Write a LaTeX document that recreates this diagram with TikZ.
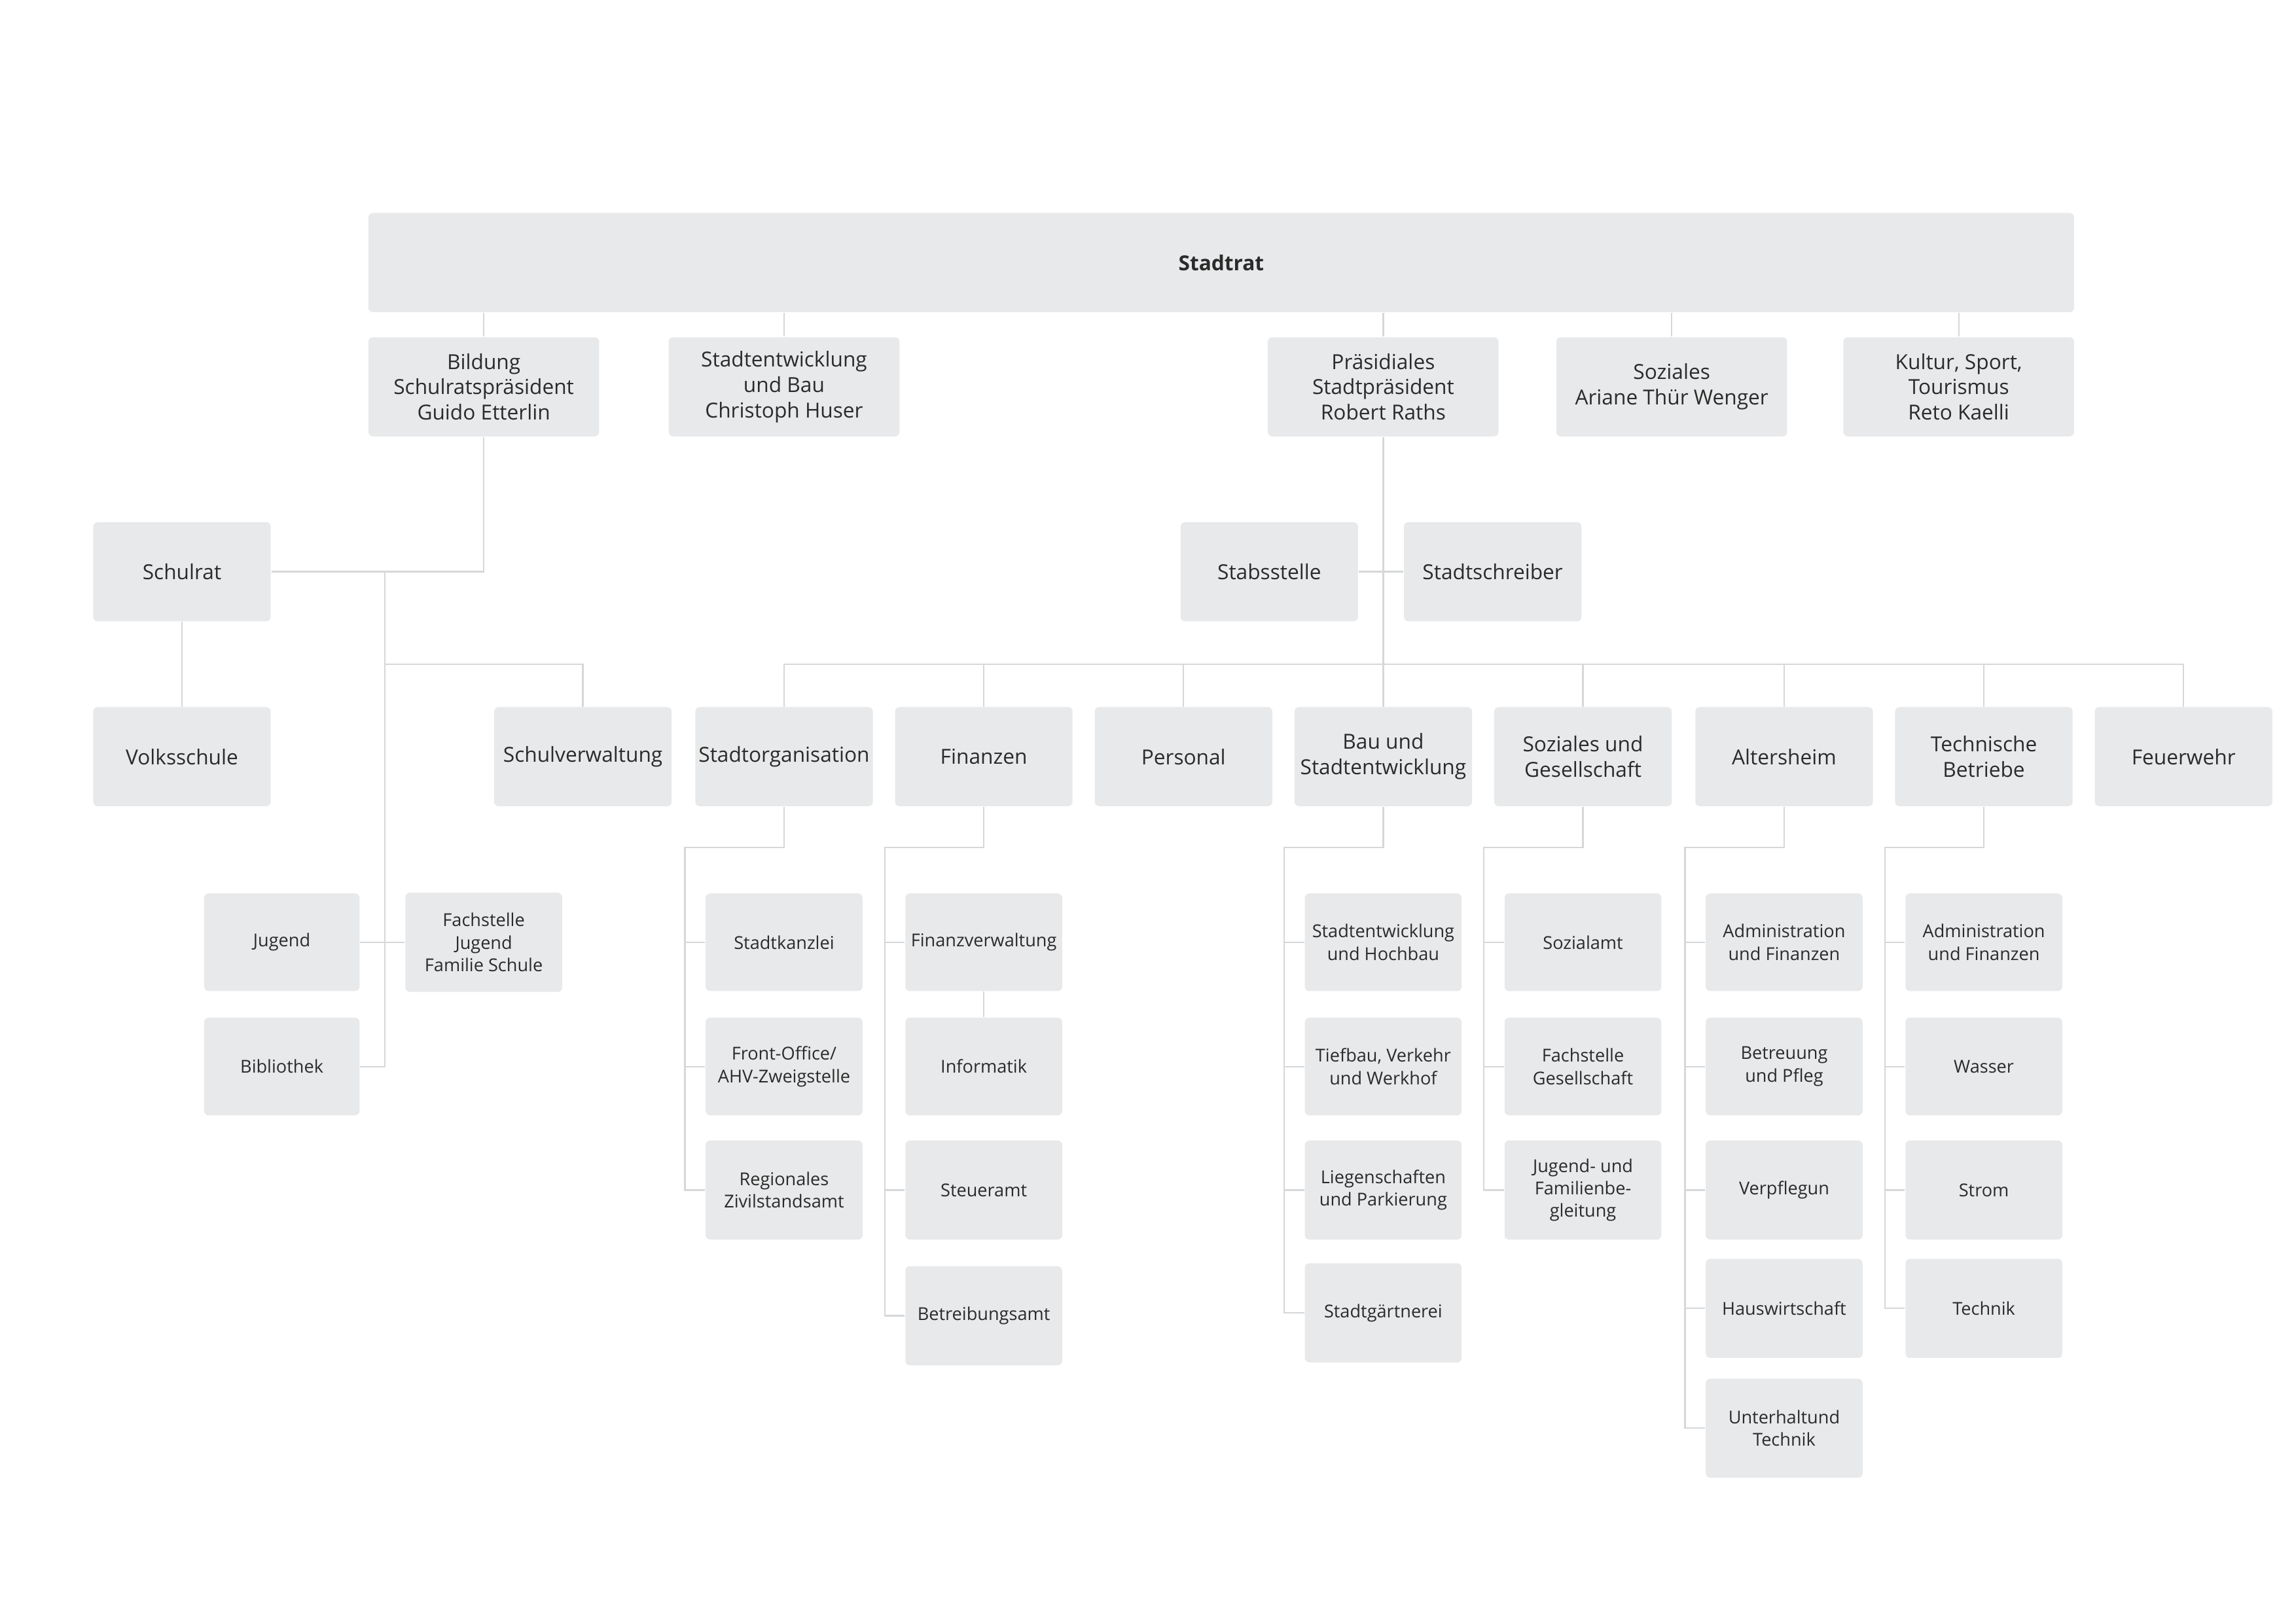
\documentclass[tikz,border=0pt]{standalone}
\usepackage{fontspec}
\setmainfont{Open Sans}
\definecolor{boxc}{HTML}{E8E9EA}
\definecolor{linec}{HTML}{D6D7D8}
\definecolor{txt}{HTML}{2B2B2B}
\newcommand\bx[7]{\node[#6, minimum width=#4*0.5pt, minimum height=#5*0.5pt] (#1) at (#2,#3) {#7};}
\tikzset{
 base/.style={fill=boxc, rounded corners=1.5pt, inner sep=1pt, align=center, text=txt},
 big/.style={base, font=\fontsize{7}{8.6}\selectfont},
 small/.style={base, font=\fontsize{6}{7.6}\selectfont},
 ln/.style={draw=linec, line width=0.5pt}
}
\begin{document}
\begin{tikzpicture}[x=0.5pt,y=-0.5pt]
\useasboundingbox (0,0) rectangle (1552,1097);
% lines first drawn after nodes via background? draw nodes first, then lines under by order trick
\bx{st}{825.5}{177.5}{1153}{67}{big}{\textbf{Stadtrat}}
\bx{bi}{327}{261.5}{156}{67}{big}{Bildung\\Schulratspräsident\\Guido Etterlin}
\bx{se}{530}{261.5}{156}{67}{big}{Stadtentwicklung\\und Bau\\Christoph Huser}
\bx{pr}{935}{261.5}{156}{67}{big}{Präsidiales\\Stadtpräsident\\Robert Raths}
\bx{so}{1130}{261.5}{156}{67}{big}{Soziales\\Ariane Thür Wenger}
\bx{ku}{1324}{261.5}{156}{67}{big}{Kultur, Sport,\\Tourismus\\Reto Kaelli}
\bx{sr}{123}{386.5}{120}{67}{big}{Schulrat}
\bx{vs}{123}{511.5}{120}{67}{big}{Volksschule}
\bx{sv}{394}{511.5}{120}{67}{big}{Schulverwaltung}
\bx{ju}{190.5}{637}{105}{66}{small}{Jugend}
\bx{fj}{327}{637}{106}{67}{small}{Fachstelle\\Jugend\\Familie Schule}
\bx{bb}{190.5}{721}{105}{66}{small}{Bibliothek}
\bx{sb}{858}{386.5}{120}{67}{big}{Stabsstelle}
\bx{ss}{1009}{386.5}{120}{67}{big}{Stadtschreiber}
\bx{sto}{530}{511.5}{120}{67}{big}{Stadtorganisation}
\bx{fi}{665}{511.5}{120}{67}{big}{Finanzen}
\bx{pe}{800}{511.5}{120}{67}{big}{Personal}
\bx{ba}{935}{511.5}{120}{67}{big}{Bau und\\Stadtentwicklung}
\bx{sg}{1070}{511.5}{120}{67}{big}{Soziales und\\Gesellschaft}
\bx{ah}{1206}{511.5}{120}{67}{big}{Altersheim}
\bx{tb}{1341}{511.5}{120}{67}{big}{Technische\\Betriebe}
\bx{fw}{1476}{511.5}{120}{67}{big}{Feuerwehr}
% Stadtorganisation children
\bx{a1}{530}{637}{106}{66}{small}{Stadtkanzlei}
\bx{a2}{530}{721}{106}{66}{small}{Front-Office/\\AHV-Zweigstelle}
\bx{a3}{530}{804.5}{106}{67}{small}{Regionales\\Zivilstandsamt}
% Finanzen
\bx{b1}{665}{637}{106}{66}{small}{Finanzverwaltung}
\bx{b2}{665}{721}{106}{66}{small}{Informatik}
\bx{b3}{665}{804.5}{106}{67}{small}{Steueramt}
\bx{b4}{665}{889.5}{106}{67}{small}{Betreibungsamt}
% Bau
\bx{c1}{935}{637}{106}{66}{small}{Stadtentwicklung\\und Hochbau}
\bx{c2}{935}{721}{106}{66}{small}{Tiefbau, Verkehr\\und Werkhof}
\bx{c3}{935}{804.5}{106}{67}{small}{Liegenschaften\\und Parkierung}
\bx{c4}{935}{887.5}{106}{67}{small}{Stadtgärtnerei}
% Soziales
\bx{d1}{1070}{637}{106}{66}{small}{Sozialamt}
\bx{d2}{1070}{721}{106}{66}{small}{Fachstelle\\Gesellschaft}
\bx{d3}{1070}{804.5}{106}{67}{small}{Jugend- und\\Familienbe-\\gleitung}
% Altersheim
\bx{e1}{1206}{637}{106}{66}{small}{Administration\\und Finanzen}
\bx{e2}{1206}{721}{106}{66}{small}{Betreuung\\und Pfleg}
\bx{e3}{1206}{804.5}{106}{67}{small}{Verpflegun}
\bx{e4}{1206}{884.5}{106}{67}{small}{Hauswirtschaft}
\bx{e5}{1206}{965.5}{106}{67}{small}{Unterhaltund\\Technik}
% Technische
\bx{f1}{1341}{637}{106}{66}{small}{Administration\\und Finanzen}
\bx{f2}{1341}{721}{106}{66}{small}{Wasser}
\bx{f3}{1341}{804.5}{106}{67}{small}{Strom}
\bx{f4}{1341}{884.5}{106}{67}{small}{Technik}
% connectors
\foreach \n in {bi,se,pr,so,ku} \draw[ln] (st.south -| \n.north) -- (\n.north);
\coordinate (bj) at (260,386);
\draw[ln] (bi.south) |- (sr.east);
\draw[ln] (sr.south) -- (vs.north);
\draw[ln] (bj) -- (260,721) -- (bb.east);
\coordinate (sj) at (260,449);
\draw[ln] (sj) -| (sv.north);
\draw[ln] (ju.east) -- (fj.west);
\draw[ln] (sb.east) -- (ss.west);
\coordinate (pj) at (935,449);
\draw[ln] (pr.south) -- (ba.north);
\draw[ln] (530,449) -- (1476,449);
\foreach \n in {sto,fi,pe,sg,ah,tb,fw} \draw[ln] (\n.north |- pj) -- (\n.north);
% sub columns
\coordinate (sa) at (463,573);
\draw[ln] (sto.south) |- (sa) -- (463,804);
\foreach \n in {a1,a2,a3} \draw[ln] (sa) |- (\n.west);
\coordinate (fa) at (598,573);
\draw[ln] (fi.south) |- (fa) -- (598,889);
\foreach \n in {b1,b3,b4} \draw[ln] (fa) |- (\n.west);
\draw[ln] (b1.south) -- (b2.north);
\coordinate (ca) at (868,573);
\draw[ln] (ba.south) |- (ca) -- (868,887);
\foreach \n in {c1,c2,c3,c4} \draw[ln] (ca) |- (\n.west);
\coordinate (da) at (1003,573);
\draw[ln] (sg.south) |- (da) -- (1003,804);
\foreach \n in {d1,d2,d3} \draw[ln] (da) |- (\n.west);
\coordinate (ea) at (1139,573);
\draw[ln] (ah.south) |- (ea) -- (1139,965);
\foreach \n in {e1,e2,e3,e4,e5} \draw[ln] (ea) |- (\n.west);
\coordinate (ta) at (1274,573);
\draw[ln] (tb.south) |- (ta) -- (1274,884);
\foreach \n in {f1,f2,f3,f4} \draw[ln] (ta) |- (\n.west);
\end{tikzpicture}
\end{document}
